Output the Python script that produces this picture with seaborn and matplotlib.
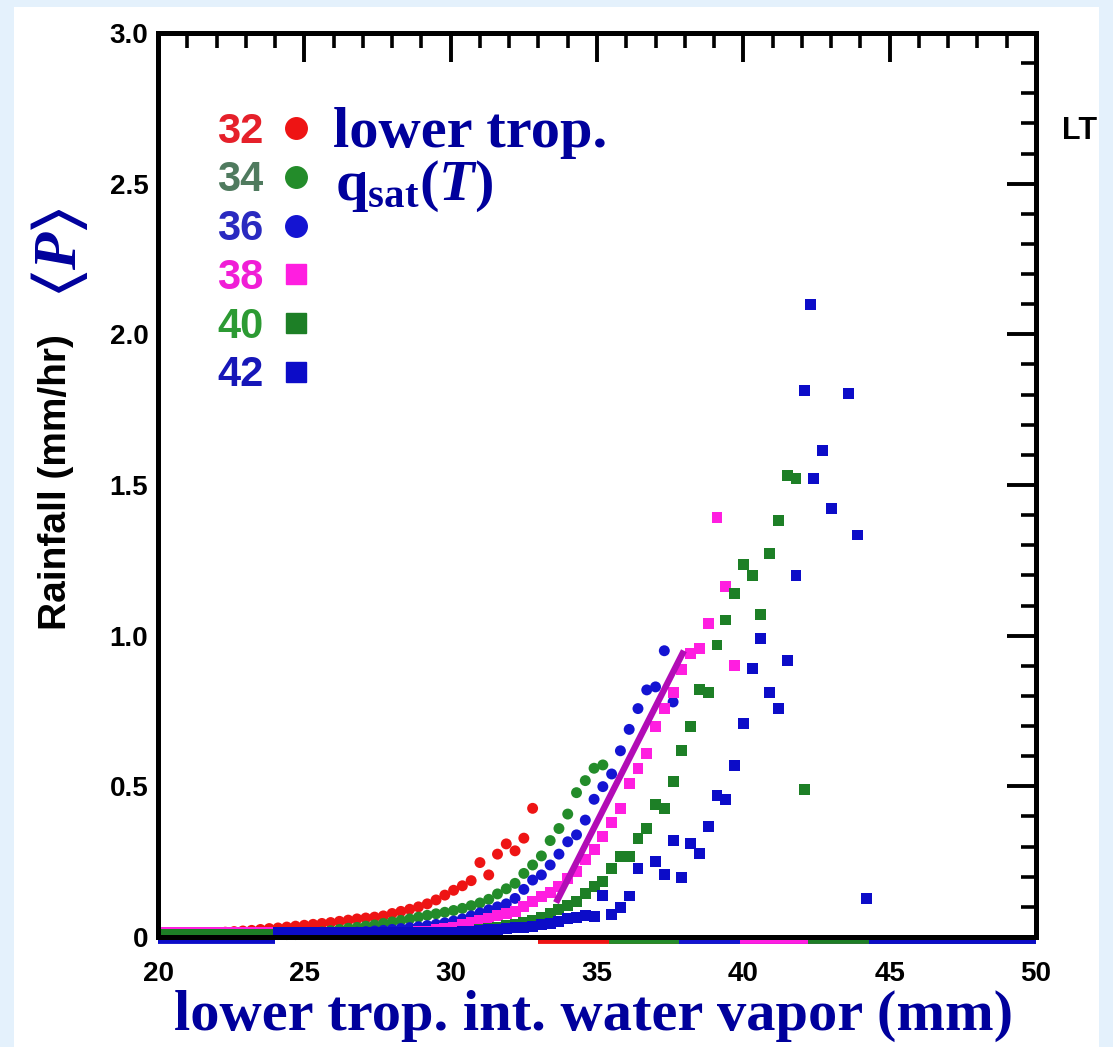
import matplotlib
matplotlib.use("Agg")
import numpy as np
import pandas as pd
import matplotlib.pyplot as plt
import seaborn as sns
from matplotlib.lines import Line2D
from matplotlib.patches import Rectangle
from matplotlib.ticker import MultipleLocator

# ---------------- data ----------------
cwv_bins = [20.2, 20.5, 20.8, 21.1, 21.4, 21.7, 22.0, 22.3, 22.6, 22.9,
            23.2, 23.5, 23.8, 24.1, 24.4, 24.7, 25.0, 25.3, 25.6, 25.9,
            26.2, 26.5, 26.8, 27.1, 27.4, 27.7, 28.0, 28.3, 28.6, 28.9,
            29.2, 29.5, 29.8, 30.1, 30.4, 30.7, 31.0, 31.3, 31.6, 31.9,
            32.2, 32.5, 32.8, 33.1, 33.4, 33.7, 34.0, 34.3, 34.6, 34.9,
            35.2, 35.5, 35.8, 36.1, 36.4, 36.7, 37.0, 37.3, 37.6, 37.9,
            38.2, 38.5, 38.8, 39.1, 39.4, 39.7, 40.0, 40.3, 40.6, 40.9,
            41.2, 41.5, 41.8, 42.1, 42.4, 42.7, 43.0, 43.3, 43.6, 43.9,
            44.2]

temps = ["32", "34", "36", "38", "40", "42"]

rain32 = [.012, .012, .012, .013, .013, .014, .015, .016, .018, .020,
          .022, .025, .028, .030, .033, .036, .039, .042, .045, .048,
          .052, .056, .060, .063, .066, .070, .078, .085, .092, .100,
          .110, .123, .139, .155, .170, .187, .247, .206, .275, .309,
          .286, .328, .427]

rain34 = [.008, .008, .008, .008, .008, .008, .008, .008, .008, .008,
          .008, .008, .008, .008, .008, .008, .010, .013, .017, .021,
          .025, .029, .032, .036, .040, .045, .050, .055, .060, .066,
          .072, .077, .082, .088, .095, .104, .113, .125, .143, .160,
          .178, .211, .239, .269, .320, .360, .408, .479, .519, .560,
          .571]

rain36 = [.013, .013, .013, .013, .013, .013, .013, .013, .013, .013,
          .013, .013, .013, .013, .013, .013, .013, .013, .013, .013,
          .013, .014, .016, .018, .020, .022, .025, .028, .031, .034,
          .038, .042, .047, .053, .060, .070, .080, .090, .100, .110,
          .128, .158, .189, .206, .239, .275, .316, .339, .388, .457,
          .499, .541, .618, .689, .758, .820, .830, .950, .780]

rain38 = [.016, .016, .016, .016, .016, .016, .016, .016, .016, .016,
          .016, .016, .016, .016, .016, .016, .016, .016, .016, .016,
          .016, .016, .016, .016, .016, .016, .016, .016, .016, .018,
          .020, .024, .028, .033, .040, .047, .054, .062, .070, .077,
          .086, .100, .117, .134, .147, .167, .195, .217, .256, .289,
          .335, .379, .427, .510, .560, .610, .698, .759, .810, .888,
          .940, .958, 1.041, 1.393, 1.163, .900]

rain40 = [.008, .008, .008, .008, .008, .008, .008, .008, .008, .008,
          .008, .008, .008, .008, .008, .008, .008, .008, .008, .008,
          .008, .008, .008, .008, .008, .008, .008, .008, .010, .012,
          .013, .014, .015, .016, .018, .020, .024, .028, .032, .037,
          .042, .048, .055, .065, .078, .090, .106, .117, .145, .167,
          .184, .228, .267, .267, .328, .360, .441, .427, .515, .618,
          .698, .820, .810, .969, 1.052, 1.140, 1.235, 1.200, 1.069, 1.273,
          1.382, 1.533, 1.522, .488]

# the 42 series has its own bin list (its top point sits between bins)
cwv42 = [24.1, 24.4, 24.7, 25.0, 25.3, 25.6, 25.9, 26.2, 26.5, 26.8,
         27.1, 27.4, 27.7, 28.0, 28.3, 28.6, 28.9, 29.2, 29.5, 29.8,
         30.1, 30.4, 30.7, 31.0, 31.3, 31.6, 31.9, 32.2, 32.5, 32.8,
         33.1, 33.4, 33.7, 34.0, 34.3, 34.6, 34.9, 35.2, 35.5, 35.8,
         36.1, 36.4, 37.0, 37.3, 37.6, 37.9, 38.2, 38.5, 38.8, 39.1,
         39.4, 39.7, 40.0, 40.3, 40.6, 40.9, 41.2, 41.5, 41.8, 42.1,
         42.3, 42.4, 42.7, 43.0, 43.6, 43.9, 44.2]
rain42 = [.014, .014, .014, .014, .014, .014, .014, .014, .014, .014,
          .014, .014, .014, .014, .014, .014, .014, .014, .014, .014,
          .016, .018, .020, .022, .024, .026, .028, .030, .033, .036,
          .040, .045, .050, .060, .065, .070, .067, .139, .076, .099,
          .136, .228, .250, .206, .320, .198, .311, .278, .366, .471,
          .457, .568, .709, .891, .991, .811, .759, .919, 1.201, 1.813,
          2.098, 1.522, 1.614, 1.423, 1.804, 1.334, .128]

rain_by_T = {"32": rain32, "34": rain34, "36": rain36,
             "38": rain38, "40": rain40, "42": rain42}
cwv_by_T = {"32": cwv_bins[:len(rain32)], "34": cwv_bins[:len(rain34)],
            "36": cwv_bins[:len(rain36)], "38": cwv_bins[:len(rain38)],
            "40": cwv_bins[:len(rain40)], "42": cwv42}

# bins where each series sits at zero (drawn just under the axis)
zero_ranges = {"32": [(33.0, 50.0)], "34": [(35.4, 50.0)], "36": [(37.8, 50.0)],
               "38": [(39.9, 50.0)], "40": [(42.2, 50.0)],
               "42": [(20.0, 24.0), (44.3, 50.0)]}

# q_sat(T) reference line
line_x = [33.6, 37.97]
line_y = [0.114, 0.95]

x_ticks = [20, 25, 30, 35, 40, 45, 50]
y_ticks = [0, 0.5, 1.0, 1.5, 2.0, 2.5, 3.0]
y_ticklabels = ["0", "0.5", "1.0", "1.5", "2.0", "2.5", "3.0"]

# ---------------- styling ----------------
point_colors = {"32": "#ee1414", "34": "#238c2a", "36": "#1414d2",
                "38": "#ff1ee0", "40": "#1d7f26", "42": "#0c0cc8"}
label_colors = ["#e5202a", "#4f7a5e", "#2a2ac0", "#f01ed6", "#2c9a33", "#1616b8"]
markers = {"32": "o", "34": "o", "36": "o", "38": "s", "40": "s", "42": "s"}
navy = "#00009c"

sns.set_theme(style="white")
plt.rcParams["font.family"] = ["Liberation Sans", "DejaVu Sans"]
plt.rcParams["font.weight"] = "bold"
plt.rcParams["mathtext.fontset"] = "custom"
plt.rcParams["mathtext.rm"] = "Liberation Serif:bold"
plt.rcParams["mathtext.bf"] = "Liberation Serif:bold"
plt.rcParams["mathtext.it"] = "Liberation Serif:italic:bold"
plt.rcParams["mathtext.fallback"] = "stix"

W, H = 1113, 1047
fig = plt.figure(figsize=(W / 100, H / 100), dpi=100, facecolor="#e4f1fc")
fig.patches.append(Rectangle((14 / W, 0), (1099 - 14) / W, (H - 7) / H,
                             transform=fig.transFigure, facecolor="white",
                             edgecolor="none", zorder=-5))
ax = fig.add_axes([158 / W, 1 - 937 / H, (1036 - 158) / W, (937 - 33) / H])
ax.set_facecolor("white")

frames = [pd.DataFrame({"cwv": cwv_by_T[T], "rain": rain_by_T[T], "T": T}) for T in temps]
df = pd.concat(frames, ignore_index=True).dropna()

sns.scatterplot(data=df, x="cwv", y="rain", hue="T", style="T",
                palette=point_colors, markers=markers, s=62, linewidth=0,
                legend=False, ax=ax, zorder=2)
for coll in ax.collections:
    coll.set_clip_on(False)

for T in temps:
    for (a, b) in zero_ranges[T]:
        ax.hlines(-0.012, a, b, colors=point_colors[T], linewidth=4.2,
                  clip_on=False, zorder=1.8)

ax.plot(line_x, line_y, color="#b20cb6", lw=4.6, solid_capstyle="butt", zorder=3)

ax.set_xlim(20, 50)
ax.set_ylim(0, 3.0)
ax.set_xticks(x_ticks)
ax.set_xticklabels([str(t) for t in x_ticks])
ax.set_yticks(y_ticks)
ax.set_yticklabels(y_ticklabels)
ax.xaxis.set_minor_locator(MultipleLocator(1))
ax.yaxis.set_minor_locator(MultipleLocator(0.1))
ax.set_xlabel("")
ax.set_ylabel("")
ax.tick_params(which="major", direction="in", length=21, width=2.8,
               top=True, right=True, labelsize=20, colors="black")
ax.tick_params(which="minor", direction="in", length=11, width=2.6,
               top=True, right=True, colors="black")
ax.tick_params(axis="x", which="major", pad=17)
ax.tick_params(axis="y", which="major", pad=7)
for lab in ax.get_xticklabels() + ax.get_yticklabels():
    lab.set_fontweight("bold")
for s in ax.spines.values():
    s.set_linewidth(3.6)
    s.set_color("black")
    s.set_zorder(2.5)

handles = [Line2D([], [], marker=markers[T], color=point_colors[T], linestyle="none",
                  markersize=(15.5 if markers[T] == "o" else 14.5)) for T in temps]
leg = ax.legend(handles, temps, loc="upper left", bbox_to_anchor=(0.067, 0.913),
                frameon=False, markerfirst=False, handlelength=0.8,
                handletextpad=0.38, labelspacing=0.21, borderpad=0,
                borderaxespad=0,
                prop={"family": "Liberation Sans", "weight": "bold", "size": 30},
                labelcolor=label_colors)

def fx(px):
    return px / W

def fy(py):
    return 1 - py / H

fig.text(fx(333), fy(147), "lower trop.", family="Liberation Serif", weight="bold",
         size=42, color=navy, ha="left", va="baseline")
fig.text(fx(335), fy(200), r"$\mathrm{q}_{\mathrm{sat}}(\mathit{T})$", size=42,
         color=navy, ha="left", va="baseline")
fig.text(fx(1062), fy(131), "LT", size=22, weight="bold", color="black",
         ha="left", va="center")
fig.text(fx(56), fy(482), "Rainfall (mm/hr)", size=28, weight="bold", color="black",
         rotation=90, ha="center", va="center")
fig.text(fx(60), fy(252), r"$\langle\mathit{P}\rangle$", size=44, color=navy,
         rotation=90, ha="center", va="center")
fig.text(fx(594), fy(1030), "lower trop. int. water vapor (mm)", family="Liberation Serif",
         weight="bold", size=42, color=navy, ha="center", va="baseline")

fig.savefig("out.png", dpi=100, facecolor=fig.get_facecolor())
